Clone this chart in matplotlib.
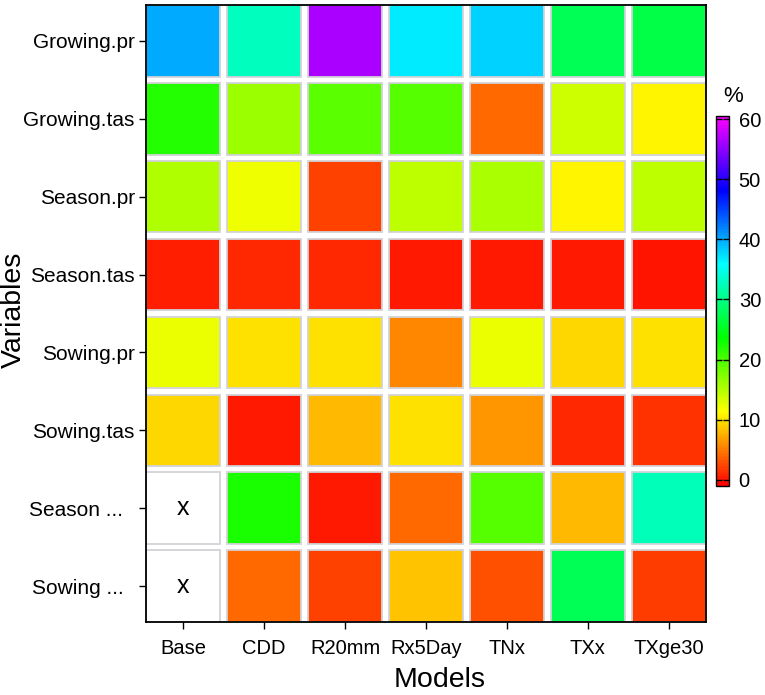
import colorsys
import numpy as np
import matplotlib
matplotlib.use("Agg")
import matplotlib.pyplot as plt
from matplotlib.colors import ListedColormap, Normalize
from matplotlib.patches import Rectangle
from matplotlib.cm import ScalarMappable

plt.rcParams['font.family'] = ['Liberation Sans', 'DejaVu Sans']

models = ['Base', 'CDD', 'R20mm', 'Rx5Day', 'TNx', 'TXx', 'TXge30']
variables = ['Growing.pr', 'Growing.tas', 'Season.pr', 'Season.tas',
             'Sowing.pr', 'Sowing.tas', 'Season ...  ', 'Sowing ...  ']

# percent values, rows follow `variables`, columns follow `models`
growing_pr = [40.0, 32.8, 56.4, 36.9, 38.0, 27.7, 26.9]
growing_tas = [22.0, 16.2, 19.3, 19.5, 4.1, 13.8, 10.9]
season_pr = [15.1, 12.1, 2.3, 14.6, 15.4, 10.9, 14.6]
season_tas = [0.6, 1.1, 1.1, 0.4, 0.4, 0.4, 0.2]
sowing_pr = [12.3, 9.9, 9.9, 5.6, 12.3, 9.5, 9.9]
sowing_tas = [9.5, 0.4, 8.0, 9.9, 6.4, 1.1, 1.5]
season_other = [np.nan, 22.4, 0.4, 4.1, 19.5, 8.0, 32.6]
sowing_other = [np.nan, 4.1, 2.3, 8.4, 2.9, 27.7, 2.1]

values = np.array([growing_pr, growing_tas, season_pr, season_tas,
                   sowing_pr, sowing_tas, season_other, sowing_other])

# rainbow: red -> magenta
cmap = ListedColormap([colorsys.hsv_to_rgb(h, 1, 1) for h in np.linspace(0, 5 / 6, 256)])
norm = Normalize(vmin=-1, vmax=60.5)

fig = plt.figure(figsize=(7.65, 6.95), dpi=100)
ax = fig.add_axes([0.1908, 0.105, 0.7321, 0.8878])

w = 0.92
n_rows = len(variables)
for i, var in enumerate(variables):
    y = n_rows - i
    for j, m in enumerate(models):
        x = j + 1
        v = values[i, j]
        face = 'white' if np.isnan(v) else cmap(norm(v))
        ax.add_patch(Rectangle((x - w / 2, y - w / 2), w, w, facecolor=face,
                               edgecolor='#d2d2d8', linewidth=1.3))
        if np.isnan(v):
            ax.text(x, y, 'x', ha='center', va='center', fontsize=18)

ax.set_xlim(1 - w / 2, len(models) + w / 2)
ax.set_ylim(1 - w / 2, n_rows + w / 2)
ax.set_xticks(range(1, len(models) + 1))
ax.set_xticklabels(models, fontsize=14.5)
ax.set_yticks(range(n_rows, 0, -1))
ax.set_yticklabels(variables, fontsize=15)
ax.tick_params(length=5, width=1, colors='black')
ax.tick_params(axis='x', pad=7)
ax.tick_params(axis='y', pad=3)
for s in ax.spines.values():
    s.set_linewidth(1.3)

fig.text(440 / 765, 1 - 680 / 695, 'Models', ha='center', va='center', fontsize=20.5)
fig.text(14 / 765, 1 - 310 / 695, 'Variables', ha='center', va='center',
         rotation=90, fontsize=20.5)

cax = fig.add_axes([716 / 765, 1 - 486 / 695, 13 / 765, 370 / 695])
cb = fig.colorbar(ScalarMappable(norm=norm, cmap=cmap), cax=cax)
cb.set_ticks([0, 10, 20, 30, 40, 50, 60])
cb.outline.set_linewidth(1)
cax.tick_params(direction='in', left=True, right=True, length=4.5, width=1,
                labelsize=14.5, pad=7)
fig.text(733 / 765, 1 - 96 / 695, '%', ha='center', va='center', fontsize=16)

fig.savefig('out.png', dpi=100)
